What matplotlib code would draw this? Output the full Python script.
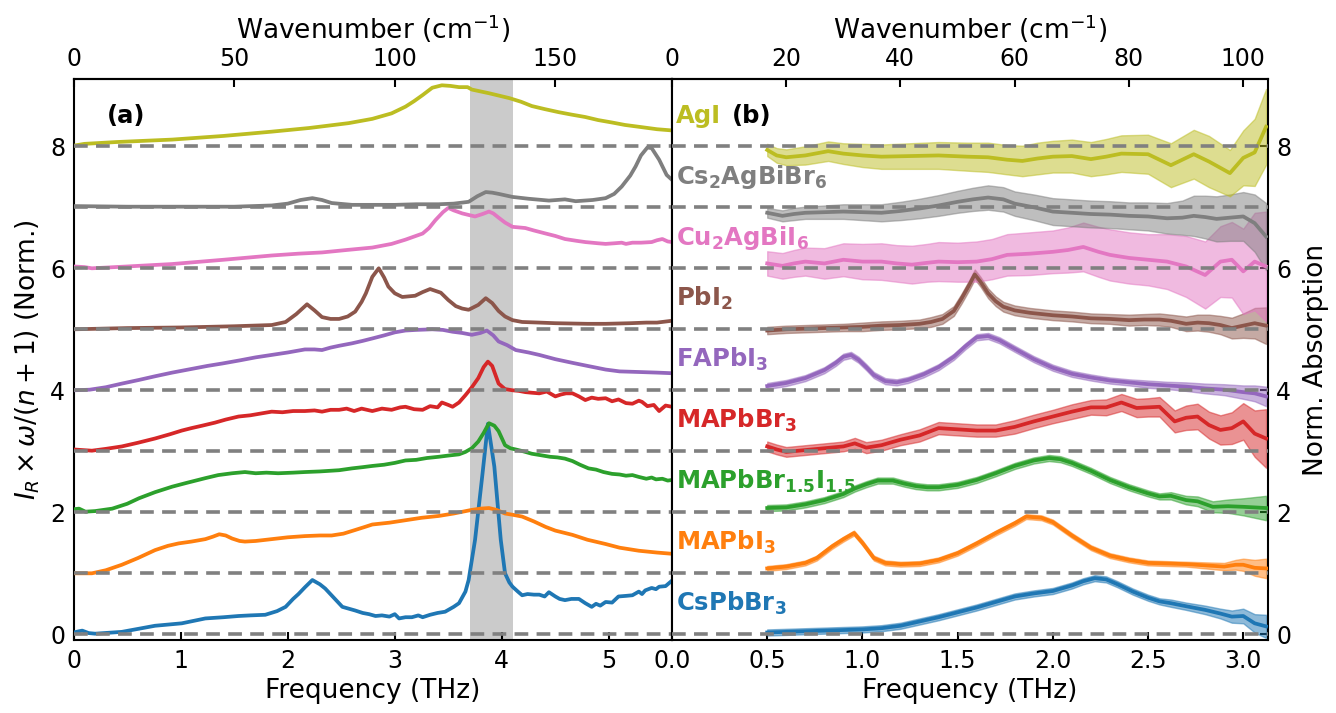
import matplotlib
matplotlib.use("Agg")
import matplotlib.pyplot as plt

THZ_TO_CM = 33.356

# ---------------- panel (a): normalised spectra, offset by one unit each ----------------
cspbbr3_a_f = [0.00, 0.05, 0.08, 0.14, 0.20, 0.45, 0.76, 1.01, 1.12, 1.23, 1.40, 1.54, 1.65, 1.79,
               1.90, 1.98, 2.05, 2.10, 2.16, 2.23, 2.30, 2.35, 2.43, 2.51, 2.57, 2.63, 2.70, 2.76,
               2.82, 2.88, 2.95, 3.00, 3.04, 3.10, 3.16, 3.22, 3.26, 3.33, 3.40, 3.47, 3.55, 3.60,
               3.66, 3.69, 3.75, 3.82, 3.87, 3.93, 3.99, 4.03, 4.07, 4.10, 4.15, 4.19, 4.24, 4.30,
               4.35, 4.40, 4.44, 4.50, 4.54, 4.59, 4.65, 4.72, 4.78, 4.84, 4.88, 4.92, 4.97, 5.03,
               5.09, 5.16, 5.22, 5.28, 5.31, 5.34, 5.40, 5.44, 5.47, 5.53, 5.59]
cspbbr3_a_v = [0.03, 0.05, 0.06, 0.02, 0.01, 0.04, 0.14, 0.18, 0.22, 0.26, 0.28, 0.30, 0.31, 0.32,
               0.38, 0.45, 0.58, 0.66, 0.77, 0.89, 0.82, 0.75, 0.60, 0.45, 0.42, 0.39, 0.35, 0.33,
               0.30, 0.31, 0.29, 0.33, 0.26, 0.28, 0.28, 0.31, 0.28, 0.32, 0.35, 0.37, 0.45, 0.51,
               0.70, 0.89, 1.55, 2.64, 3.45, 2.75, 1.55, 1.00, 0.85, 0.78, 0.70, 0.64, 0.66, 0.65,
               0.65, 0.62, 0.69, 0.62, 0.58, 0.56, 0.58, 0.58, 0.51, 0.45, 0.50, 0.47, 0.53, 0.52,
               0.62, 0.63, 0.64, 0.70, 0.66, 0.72, 0.76, 0.74, 0.78, 0.79, 0.88]

mapbi3_a_f = [0.00, 0.17, 0.30, 0.45, 0.60, 0.76, 0.88, 0.98, 1.10, 1.23, 1.30, 1.36, 1.42, 1.48,
              1.55, 1.60, 1.70, 1.85, 2.00, 2.16, 2.30, 2.41, 2.52, 2.63, 2.72, 2.79, 2.95, 3.10,
              3.25, 3.41, 3.55, 3.72, 3.80, 3.88, 3.95, 4.03, 4.10, 4.19, 4.30, 4.41, 4.50, 4.66,
              4.80, 4.97, 5.10, 5.28, 5.45, 5.59]
mapbi3_a_v = [0.00, 0.00, 0.05, 0.14, 0.25, 0.38, 0.45, 0.49, 0.52, 0.56, 0.60, 0.64, 0.62, 0.57,
              0.53, 0.52, 0.53, 0.56, 0.59, 0.61, 0.62, 0.62, 0.65, 0.71, 0.76, 0.80, 0.83, 0.87,
              0.91, 0.94, 0.98, 1.04, 1.06, 1.07, 1.04, 0.98, 0.96, 0.93, 0.85, 0.76, 0.70, 0.63,
              0.55, 0.48, 0.42, 0.37, 0.34, 0.32]

mixed_a_f = [0.00, 0.05, 0.11, 0.20, 0.36, 0.50, 0.61, 0.76, 0.92, 1.05, 1.23, 1.35, 1.48, 1.60,
             1.70, 1.80, 1.91, 2.05, 2.16, 2.30, 2.48, 2.60, 2.70, 2.79, 2.90, 3.00, 3.10, 3.20,
             3.30, 3.41, 3.50, 3.60, 3.66, 3.72, 3.78, 3.83, 3.88, 3.93, 3.97, 4.03, 4.08, 4.13,
             4.20, 4.28, 4.35, 4.45, 4.52, 4.59, 4.66, 4.73, 4.81, 4.88, 4.95, 5.03, 5.10, 5.16,
             5.22, 5.28, 5.35, 5.40, 5.44, 5.50, 5.55, 5.59]
mixed_a_v = [0.05, 0.06, 0.01, 0.02, 0.06, 0.14, 0.23, 0.33, 0.42, 0.48, 0.56, 0.61, 0.64, 0.66,
             0.64, 0.65, 0.64, 0.65, 0.66, 0.67, 0.69, 0.72, 0.74, 0.76, 0.78, 0.81, 0.85, 0.86,
             0.89, 0.91, 0.93, 0.95, 0.99, 1.05, 1.16, 1.30, 1.46, 1.42, 1.33, 1.10, 1.05, 1.03,
             1.00, 0.96, 0.94, 0.91, 0.90, 0.88, 0.84, 0.78, 0.72, 0.70, 0.66, 0.63, 0.62, 0.60,
             0.61, 0.58, 0.55, 0.57, 0.54, 0.55, 0.52, 0.53]

mapbbr3_a_f = [0.00, 0.17, 0.30, 0.45, 0.60, 0.76, 0.90, 1.01, 1.10, 1.20, 1.32, 1.42, 1.54, 1.65,
               1.75, 1.85, 1.95, 2.05, 2.16, 2.25, 2.32, 2.40, 2.48, 2.55, 2.62, 2.69, 2.79, 2.88,
               2.97, 3.05, 3.10, 3.18, 3.26, 3.33, 3.40, 3.44, 3.50, 3.54, 3.60, 3.66, 3.72, 3.78,
               3.83, 3.87, 3.91, 3.97, 4.03, 4.10, 4.16, 4.22, 4.28, 4.35, 4.42, 4.50, 4.55, 4.60,
               4.66, 4.72, 4.78, 4.84, 4.90, 4.97, 5.03, 5.09, 5.16, 5.22, 5.28, 5.31, 5.36, 5.42,
               5.47, 5.53, 5.59]
mapbbr3_a_v = [0.03, 0.01, 0.04, 0.08, 0.14, 0.21, 0.28, 0.34, 0.38, 0.42, 0.47, 0.52, 0.57, 0.59,
               0.62, 0.65, 0.64, 0.66, 0.66, 0.67, 0.65, 0.68, 0.68, 0.70, 0.66, 0.70, 0.66, 0.70,
               0.68, 0.72, 0.73, 0.69, 0.68, 0.74, 0.72, 0.80, 0.76, 0.73, 0.80, 0.92, 1.05, 1.20,
               1.38, 1.47, 1.40, 1.11, 1.02, 1.00, 0.99, 0.97, 0.96, 0.95, 0.98, 0.90, 0.93, 0.95,
               0.95, 0.90, 0.84, 0.88, 0.86, 0.87, 0.82, 0.85, 0.79, 0.78, 0.83, 0.81, 0.74, 0.76,
               0.66, 0.75, 0.73]

fapbi3_a_f = [0.00, 0.15, 0.30, 0.45, 0.61, 0.76, 0.92, 1.10, 1.25, 1.39, 1.55, 1.70, 1.85, 2.00,
              2.16, 2.25, 2.32, 2.40, 2.48, 2.60, 2.70, 2.79, 2.90, 3.00, 3.10, 3.20, 3.35, 3.45,
              3.54, 3.63, 3.72, 3.80, 3.86, 3.92, 3.97, 4.05, 4.13, 4.25, 4.35, 4.50, 4.66, 4.80,
              4.97, 5.10, 5.28, 5.45, 5.59]
fapbi3_a_v = [0.00, 0.01, 0.05, 0.11, 0.17, 0.23, 0.29, 0.35, 0.40, 0.44, 0.49, 0.54, 0.58, 0.62,
              0.67, 0.67, 0.66, 0.70, 0.73, 0.77, 0.81, 0.85, 0.90, 0.95, 0.98, 0.99, 1.00, 0.99,
              0.96, 0.94, 0.91, 0.94, 0.98, 0.90, 0.80, 0.74, 0.66, 0.62, 0.58, 0.51, 0.45, 0.40,
              0.34, 0.31, 0.30, 0.29, 0.28]

pbi2_a_f = [0.00, 0.50, 1.00, 1.50, 1.85, 1.98, 2.08, 2.18, 2.25, 2.32, 2.40, 2.48, 2.56, 2.63,
            2.69, 2.73, 2.79, 2.85, 2.90, 2.94, 3.00, 3.07, 3.19, 3.26, 3.33, 3.43, 3.50, 3.57,
            3.63, 3.69, 3.78, 3.85, 3.91, 3.97, 4.03, 4.10, 4.19, 4.35, 4.50, 4.80, 4.97, 5.20,
            5.35, 5.45, 5.59]
pbi2_a_v = [0.00, 0.02, 0.03, 0.05, 0.07, 0.12, 0.25, 0.41, 0.31, 0.20, 0.17, 0.17, 0.21, 0.29,
            0.45, 0.59, 0.86, 1.00, 0.85, 0.70, 0.59, 0.53, 0.55, 0.61, 0.66, 0.60, 0.48, 0.38,
            0.34, 0.32, 0.40, 0.51, 0.43, 0.30, 0.21, 0.15, 0.12, 0.11, 0.10, 0.09, 0.09, 0.10,
            0.11, 0.11, 0.14]

cu2agbii6_a_f = [0.00, 0.10, 0.17, 0.50, 0.92, 1.40, 1.85, 2.10, 2.32, 2.55, 2.79, 2.97, 3.10,
                 3.26, 3.32, 3.38, 3.45, 3.50, 3.55, 3.63, 3.70, 3.75, 3.82, 3.88, 3.92, 3.97,
                 4.03, 4.10, 4.22, 4.30, 4.41, 4.50, 4.59, 4.70, 4.78, 4.90, 4.97, 5.05, 5.12,
                 5.16, 5.22, 5.30, 5.40, 5.45, 5.50, 5.55, 5.59]
cu2agbii6_a_v = [0.03, 0.02, 0.00, 0.03, 0.07, 0.14, 0.21, 0.24, 0.26, 0.30, 0.34, 0.40, 0.47,
                 0.57, 0.66, 0.79, 0.92, 0.99, 0.95, 0.90, 0.87, 0.85, 0.89, 0.93, 0.90, 0.83,
                 0.75, 0.68, 0.66, 0.62, 0.57, 0.53, 0.48, 0.45, 0.43, 0.41, 0.40, 0.41, 0.42,
                 0.40, 0.42, 0.42, 0.43, 0.46, 0.48, 0.44, 0.43]

cs2agbibr6_a_f = [0.00, 0.50, 1.00, 1.50, 1.85, 2.00, 2.12, 2.23, 2.32, 2.41, 2.60, 2.79, 3.00,
                  3.20, 3.41, 3.55, 3.69, 3.77, 3.85, 3.91, 3.97, 4.10, 4.25, 4.44, 4.59, 4.69,
                  4.85, 4.97, 5.05, 5.12, 5.20, 5.25, 5.30, 5.36, 5.40, 5.47, 5.54, 5.59]
cs2agbibr6_a_v = [0.02, 0.01, 0.01, 0.01, 0.03, 0.06, 0.12, 0.15, 0.12, 0.07, 0.04, 0.04, 0.04,
                  0.05, 0.05, 0.06, 0.09, 0.18, 0.25, 0.24, 0.22, 0.17, 0.14, 0.11, 0.13, 0.10,
                  0.12, 0.15, 0.22, 0.34, 0.52, 0.67, 0.85, 0.98, 0.97, 0.78, 0.53, 0.45]

agi_a_f = [0.00, 0.10, 0.40, 0.92, 1.40, 1.85, 2.20, 2.57, 2.79, 2.97, 3.10, 3.18, 3.26, 3.35,
           3.44, 3.52, 3.60, 3.68, 3.72, 3.88, 4.07, 4.18, 4.28, 4.40, 4.53, 4.65, 4.78, 4.90,
           5.03, 5.15, 5.28, 5.45, 5.59]
agi_a_v = [0.01, 0.04, 0.07, 0.11, 0.17, 0.24, 0.30, 0.38, 0.45, 0.54, 0.65, 0.74, 0.84, 0.96,
           1.00, 0.99, 0.97, 0.97, 0.93, 0.87, 0.79, 0.73, 0.66, 0.61, 0.56, 0.52, 0.48, 0.43,
           0.39, 0.35, 0.32, 0.28, 0.26]

# ---------------- panel (b): normalised absorption with uncertainty ----------------
cspbbr3_b_f = [0.50, 0.60, 0.70, 0.80, 0.90, 1.00, 1.10, 1.20, 1.30, 1.40, 1.50, 1.60, 1.70, 1.80,
               1.90, 2.00, 2.10, 2.16, 2.22, 2.28, 2.34, 2.42, 2.50, 2.56, 2.62, 2.70, 2.80, 2.88,
               2.94, 3.00, 3.06, 3.12]
cspbbr3_b_v = [0.03, 0.04, 0.05, 0.06, 0.07, 0.08, 0.10, 0.14, 0.21, 0.28, 0.36, 0.44, 0.53, 0.62,
               0.67, 0.71, 0.80, 0.87, 0.92, 0.90, 0.82, 0.70, 0.60, 0.54, 0.51, 0.46, 0.40, 0.34,
               0.29, 0.30, 0.18, 0.13]
cspbbr3_b_e = [0.05, 0.05, 0.05, 0.05, 0.05, 0.05, 0.05, 0.05, 0.05, 0.05, 0.05, 0.05, 0.05, 0.05,
               0.05, 0.05, 0.05, 0.05, 0.05, 0.05, 0.05, 0.05, 0.05, 0.05, 0.06, 0.06, 0.07, 0.08,
               0.10, 0.12, 0.15, 0.19]

mapbi3_b_f = [0.50, 0.60, 0.70, 0.76, 0.84, 0.90, 0.956, 1.00, 1.06, 1.12, 1.20, 1.30, 1.40, 1.50,
              1.60, 1.70, 1.80, 1.86, 1.94, 2.00, 2.10, 2.20, 2.30, 2.40, 2.50, 2.60, 2.70, 2.80,
              2.90, 2.96, 3.00, 3.06, 3.12]
mapbi3_b_v = [0.08, 0.11, 0.17, 0.25, 0.44, 0.56, 0.66, 0.50, 0.25, 0.17, 0.15, 0.16, 0.22, 0.33,
              0.49, 0.66, 0.82, 0.93, 0.91, 0.84, 0.62, 0.42, 0.29, 0.22, 0.17, 0.16, 0.15, 0.13,
              0.11, 0.14, 0.14, 0.09, 0.08]
mapbi3_b_e = [0.04, 0.04, 0.04, 0.04, 0.04, 0.04, 0.04, 0.04, 0.04, 0.04, 0.04, 0.04, 0.04, 0.04,
              0.04, 0.04, 0.04, 0.04, 0.04, 0.04, 0.04, 0.04, 0.04, 0.04, 0.04, 0.04, 0.04, 0.05,
              0.06, 0.08, 0.10, 0.13, 0.16]

mixed_b_f = [0.50, 0.60, 0.70, 0.80, 0.90, 0.96, 1.02, 1.08, 1.16, 1.22, 1.28, 1.34, 1.40, 1.50,
             1.60, 1.70, 1.80, 1.90, 1.98, 2.04, 2.10, 2.20, 2.30, 2.40, 2.50, 2.56, 2.62, 2.70,
             2.76, 2.84, 2.92, 3.00, 3.06, 3.12]
mixed_b_v = [0.07, 0.08, 0.13, 0.20, 0.30, 0.39, 0.46, 0.52, 0.52, 0.47, 0.43, 0.41, 0.41, 0.45,
             0.53, 0.64, 0.76, 0.85, 0.89, 0.87, 0.81, 0.68, 0.53, 0.41, 0.31, 0.26, 0.27, 0.20,
             0.18, 0.09, 0.10, 0.09, 0.08, 0.07]
mixed_b_e = [0.05, 0.05, 0.05, 0.05, 0.05, 0.05, 0.05, 0.05, 0.05, 0.05, 0.05, 0.05, 0.05, 0.05,
             0.05, 0.05, 0.05, 0.05, 0.05, 0.05, 0.05, 0.05, 0.05, 0.05, 0.05, 0.05, 0.06, 0.07,
             0.08, 0.09, 0.11, 0.14, 0.17, 0.20]

mapbbr3_b_f = [0.50, 0.55, 0.60, 0.70, 0.80, 0.90, 0.96, 1.02, 1.10, 1.20, 1.30, 1.40, 1.50, 1.60,
               1.70, 1.80, 1.90, 2.00, 2.10, 2.20, 2.28, 2.36, 2.44, 2.50, 2.56, 2.64, 2.70, 2.76,
               2.82, 2.88, 2.94, 3.00, 3.06, 3.12]
mapbbr3_b_v = [0.08, 0.03, -0.01, 0.02, 0.05, 0.08, 0.13, 0.06, 0.10, 0.19, 0.26, 0.38, 0.36, 0.34,
               0.34, 0.40, 0.49, 0.57, 0.65, 0.72, 0.72, 0.80, 0.71, 0.72, 0.73, 0.49, 0.55, 0.57,
               0.43, 0.35, 0.38, 0.49, 0.29, 0.21]
mapbbr3_b_e = [0.08, 0.08, 0.08, 0.08, 0.08, 0.08, 0.09, 0.09, 0.09, 0.09, 0.10, 0.10, 0.10, 0.10,
               0.10, 0.11, 0.11, 0.11, 0.12, 0.12, 0.13, 0.14, 0.15, 0.15, 0.16, 0.18, 0.20, 0.21,
               0.22, 0.24, 0.26, 0.30, 0.38, 0.48]

fapbi3_b_f = [0.50, 0.60, 0.70, 0.80, 0.86, 0.90, 0.94, 0.98, 1.02, 1.06, 1.12, 1.18, 1.24, 1.32,
              1.40, 1.48, 1.54, 1.60, 1.66, 1.72, 1.80, 1.90, 2.00, 2.10, 2.20, 2.30, 2.40, 2.50,
              2.60, 2.70, 2.80, 2.90, 3.00, 3.06, 3.12]
fapbi3_b_v = [0.07, 0.12, 0.20, 0.33, 0.45, 0.55, 0.58, 0.50, 0.38, 0.25, 0.15, 0.13, 0.17, 0.26,
              0.38, 0.55, 0.72, 0.87, 0.89, 0.82, 0.68, 0.51, 0.37, 0.27, 0.21, 0.16, 0.13, 0.10,
              0.08, 0.06, 0.03, 0.01, -0.03, -0.05, -0.10]
fapbi3_b_e = [0.05, 0.05, 0.05, 0.05, 0.05, 0.05, 0.05, 0.05, 0.05, 0.05, 0.05, 0.05, 0.05, 0.05,
              0.05, 0.05, 0.05, 0.05, 0.05, 0.05, 0.05, 0.05, 0.05, 0.05, 0.05, 0.05, 0.05, 0.06,
              0.06, 0.07, 0.08, 0.09, 0.11, 0.13, 0.16]

pbi2_b_f = [0.50, 0.60, 0.70, 0.80, 0.90, 1.00, 1.10, 1.20, 1.30, 1.36, 1.42, 1.48, 1.52, 1.56,
            1.59, 1.62, 1.66, 1.70, 1.74, 1.80, 1.88, 2.00, 2.10, 2.20, 2.30, 2.40, 2.48, 2.56,
            2.62, 2.70, 2.76, 2.82, 2.88, 2.94, 3.00, 3.06, 3.12]
pbi2_b_v = [-0.02, 0.00, 0.01, 0.02, 0.03, 0.04, 0.06, 0.07, 0.09, 0.12, 0.17, 0.30, 0.50, 0.72,
            0.90, 0.78, 0.59, 0.46, 0.37, 0.31, 0.27, 0.23, 0.21, 0.18, 0.17, 0.15, 0.16, 0.16,
            0.14, 0.09, 0.11, 0.10, 0.07, 0.02, 0.06, 0.10, 0.06]
pbi2_b_e = [0.06, 0.06, 0.06, 0.06, 0.06, 0.07, 0.07, 0.07, 0.07, 0.08, 0.08, 0.08, 0.08, 0.08,
            0.08, 0.08, 0.08, 0.08, 0.08, 0.08, 0.08, 0.08, 0.08, 0.08, 0.08, 0.09, 0.09, 0.10,
            0.10, 0.12, 0.13, 0.14, 0.15, 0.17, 0.20, 0.25, 0.30]

cu2agbii6_b_f = [0.50, 0.58, 0.64, 0.70, 0.80, 0.90, 1.00, 1.10, 1.18, 1.26, 1.34, 1.40, 1.50,
                 1.60, 1.68, 1.76, 1.88, 2.00, 2.08, 2.16, 2.24, 2.30, 2.40, 2.50, 2.60, 2.70,
                 2.80, 2.88, 2.94, 3.00, 3.06, 3.12]
cu2agbii6_b_v = [0.08, 0.04, 0.08, 0.11, 0.08, 0.14, 0.11, 0.11, 0.08, 0.06, 0.09, 0.11, 0.10,
                 0.11, 0.15, 0.22, 0.24, 0.27, 0.30, 0.35, 0.27, 0.22, 0.17, 0.14, 0.11, 0.03,
                 -0.11, 0.11, 0.14, -0.05, 0.11, 0.03]
cu2agbii6_b_e = [0.20, 0.21, 0.22, 0.23, 0.25, 0.27, 0.29, 0.30, 0.30, 0.31, 0.31, 0.32, 0.32,
                 0.33, 0.33, 0.34, 0.35, 0.35, 0.37, 0.40, 0.41, 0.42, 0.42, 0.42, 0.45, 0.50,
                 0.55, 0.58, 0.62, 0.70, 0.80, 0.90]

cs2agbibr6_b_f = [0.50, 0.58, 0.64, 0.70, 0.80, 0.90, 1.00, 1.10, 1.20, 1.30, 1.40, 1.50, 1.58,
                  1.66, 1.74, 1.80, 1.90, 2.00, 2.10, 2.20, 2.30, 2.40, 2.50, 2.60, 2.68, 2.74,
                  2.80, 2.86, 2.93, 3.00, 3.06, 3.12]
cs2agbibr6_b_v = [-0.09, -0.14, -0.11, -0.09, -0.08, -0.07, -0.08, -0.09, -0.06, -0.02, 0.03,
                  0.09, 0.13, 0.16, 0.13, 0.06, 0.00, -0.07, -0.09, -0.11, -0.12, -0.14, -0.15,
                  -0.18, -0.17, -0.14, -0.16, -0.19, -0.17, -0.15, -0.26, -0.48]
cs2agbibr6_b_e = [0.08, 0.09, 0.10, 0.10, 0.11, 0.12, 0.13, 0.14, 0.15, 0.16, 0.17, 0.18, 0.19,
                  0.20, 0.20, 0.20, 0.21, 0.22, 0.22, 0.22, 0.22, 0.22, 0.23, 0.25, 0.28, 0.33,
                  0.35, 0.37, 0.38, 0.40, 0.47, 0.55]

agi_b_f = [0.50, 0.55, 0.60, 0.70, 0.82, 0.90, 1.00, 1.10, 1.25, 1.40, 1.55, 1.66, 1.76, 1.84,
           1.92, 2.00, 2.10, 2.20, 2.28, 2.36, 2.50, 2.62, 2.74, 2.82, 2.93, 3.00, 3.06, 3.12]
agi_b_v = [-0.06, -0.15, -0.18, -0.15, -0.08, -0.12, -0.15, -0.17, -0.16, -0.15, -0.17, -0.18,
           -0.22, -0.24, -0.20, -0.17, -0.16, -0.21, -0.17, -0.12, -0.13, -0.31, -0.13, -0.25,
           -0.44, -0.19, -0.10, 0.32]
agi_b_e = [0.10, 0.12, 0.13, 0.15, 0.16, 0.17, 0.19, 0.20, 0.21, 0.22, 0.23, 0.24, 0.24, 0.25,
           0.26, 0.26, 0.27, 0.28, 0.29, 0.30, 0.32, 0.36, 0.40, 0.42, 0.38, 0.45, 0.55, 0.62]

materials = [r"CsPbBr$_\mathbf{3}$", r"MAPbI$_\mathbf{3}$", r"MAPbBr$_\mathbf{1.5}$I$_\mathbf{1.5}$",
             r"MAPbBr$_\mathbf{3}$", r"FAPbI$_\mathbf{3}$", r"PbI$_\mathbf{2}$",
             r"Cu$_\mathbf{2}$AgBiI$_\mathbf{6}$", r"Cs$_\mathbf{2}$AgBiBr$_\mathbf{6}$", "AgI"]
colors = ["#1f77b4", "#ff7f0e", "#2ca02c", "#d62728", "#9467bd",
          "#8c564b", "#e377c2", "#7f7f7f", "#bcbd22"]

raman = [(cspbbr3_a_f, cspbbr3_a_v), (mapbi3_a_f, mapbi3_a_v), (mixed_a_f, mixed_a_v),
         (mapbbr3_a_f, mapbbr3_a_v), (fapbi3_a_f, fapbi3_a_v), (pbi2_a_f, pbi2_a_v),
         (cu2agbii6_a_f, cu2agbii6_a_v), (cs2agbibr6_a_f, cs2agbibr6_a_v), (agi_a_f, agi_a_v)]
absorption = [(cspbbr3_b_f, cspbbr3_b_v, cspbbr3_b_e), (mapbi3_b_f, mapbi3_b_v, mapbi3_b_e),
              (mixed_b_f, mixed_b_v, mixed_b_e), (mapbbr3_b_f, mapbbr3_b_v, mapbbr3_b_e),
              (fapbi3_b_f, fapbi3_b_v, fapbi3_b_e), (pbi2_b_f, pbi2_b_v, pbi2_b_e),
              (cu2agbii6_b_f, cu2agbii6_b_v, cu2agbii6_b_e),
              (cs2agbibr6_b_f, cs2agbibr6_b_v, cs2agbibr6_b_e), (agi_b_f, agi_b_v, agi_b_e)]

highlight_band = (3.70, 4.10)

# ---------------- figure ----------------
plt.rcParams["font.family"] = ["DejaVu Sans"]
plt.rcParams["mathtext.fontset"] = "dejavusans"
TICK_FS = 17
LABEL_FS = 19
TAG_FS = 17.5
LW = 2.7

fig = plt.figure(figsize=(13.36, 7.13), dpi=100)
ax_a = fig.add_axes([73.7 / 1336, 72.6 / 713, 598.3 / 1336, 561.2 / 713])
ax_b = fig.add_axes([672 / 1336, 72.6 / 713, 596 / 1336, 561.2 / 713])

dash = (0, (3.8, 2.3))
for ax in (ax_a, ax_b):
    ax.set_ylim(-0.1, 9.1)
    for k in range(9):
        ax.axhline(k, color="#808080", lw=2.6, ls=dash, zorder=6)
    for s in ax.spines.values():
        s.set_linewidth(1.5)

# panel (a)
ax_a.axvspan(*highlight_band, color="#cbcbcb", lw=0, zorder=0)
for k, ((f, v), c) in enumerate(zip(raman, colors)):
    ax_a.plot(f, [k + val for val in v], color=c, lw=LW, zorder=4, solid_joinstyle="round")
ax_a.set_xlim(0, 5.59)
ax_a.set_xticks([0, 1, 2, 3, 4, 5])
ax_a.set_yticks([0, 2, 4, 6, 8])
ax_a.tick_params(axis="both", direction="in", length=6, width=1.5, labelsize=TICK_FS,
                 top=False, right=False, pad=6)
ax_a.set_xlabel("Frequency (THz)", fontsize=LABEL_FS, labelpad=4)
ax_a.set_ylabel(r"$I_R \times \omega/(n+1)$ (Norm.)", fontsize=LABEL_FS, labelpad=6)
ax_a.text(0.31, 8.38, "(a)", fontsize=TAG_FS, fontweight="bold", ha="left", va="baseline")

top_a = ax_a.secondary_xaxis("top", functions=(lambda f: f * THZ_TO_CM, lambda w: w / THZ_TO_CM))
top_a.set_xticks([0, 50, 100, 150])
top_a.tick_params(direction="in", length=6, width=1.5, labelsize=TICK_FS, pad=6)
top_a.set_xlabel(r"Wavenumber (cm$^{-1}$)", fontsize=LABEL_FS, labelpad=6)
top_a.spines["top"].set_linewidth(1.5)

# panel (b)
for k, ((f, v, e), c, name) in enumerate(zip(absorption, colors, materials)):
    lo = [k + a - b for a, b in zip(v, e)]
    hi = [k + a + b for a, b in zip(v, e)]
    ax_b.fill_between(f, lo, hi, color=c, alpha=0.5, lw=1.0, zorder=2)
    ax_b.plot(f, [k + a for a in v], color=c, lw=LW, zorder=4)
    ax_b.text(0.02, k + 0.39, name, color=c, fontsize=TAG_FS, fontweight="bold",
              ha="left", va="baseline", zorder=8)
ax_b.text(0.314, 8.38, "(b)", fontsize=TAG_FS, fontweight="bold", ha="left", va="baseline")
ax_b.set_xlim(0, 3.13)
ax_b.set_xticks([0.0, 0.5, 1.0, 1.5, 2.0, 2.5, 3.0])
ax_b.set_yticks([0, 2, 4, 6, 8])
ax_b.yaxis.tick_right()
ax_b.yaxis.set_label_position("right")
ax_b.tick_params(axis="both", direction="in", length=6, width=1.5, labelsize=TICK_FS,
                 top=False, left=False, right=True, pad=6)
ax_b.set_xlabel("Frequency (THz)", fontsize=LABEL_FS, labelpad=4)
ax_b.set_ylabel("Norm. Absorption", fontsize=LABEL_FS, labelpad=8)

top_b = ax_b.secondary_xaxis("top", functions=(lambda f: f * THZ_TO_CM, lambda w: w / THZ_TO_CM))
top_b.set_xticks([0, 20, 40, 60, 80, 100])
top_b.tick_params(direction="in", length=6, width=1.5, labelsize=TICK_FS, pad=6)
top_b.set_xlabel(r"Wavenumber (cm$^{-1}$)", fontsize=LABEL_FS, labelpad=6)
top_b.spines["top"].set_linewidth(1.5)

fig.savefig("out.png", dpi=100)
